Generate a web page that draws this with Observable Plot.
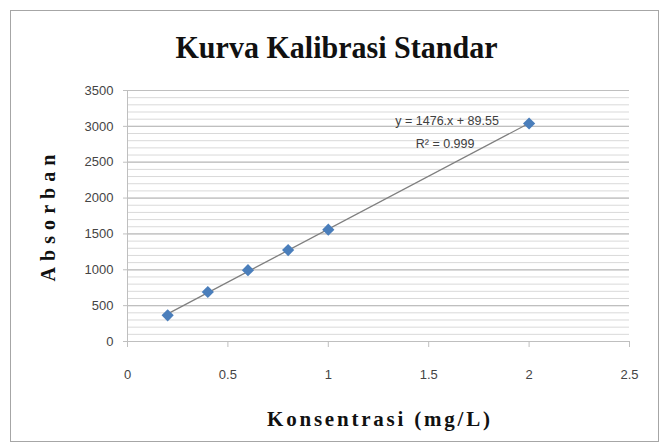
<!DOCTYPE html>
<html><head><meta charset="utf-8">
<script src="https://cdn.jsdelivr.net/npm/d3@7"></script>
<script src="https://cdn.jsdelivr.net/npm/@observablehq/plot@0.6"></script>
<style>
body{margin:0;background:#fff;}
#wrap{position:relative;width:664px;height:448px;}
#border{position:absolute;left:10px;top:10px;width:647px;height:430px;border:1.5px solid #a6a6a6;}
#chart{position:absolute;left:0;top:0;}
</style></head><body>
<div id="wrap"><div id="border"></div><div id="chart"></div></div>
<script>
const konsentrasi = [0.2, 0.4, 0.6, 0.8, 1.0, 2.0];
const absorban = [365, 690, 995, 1275, 1560, 3040];
const xTicks = [0, 0.5, 1, 1.5, 2, 2.5];
const yTicks = [0, 500, 1000, 1500, 2000, 2500, 3000, 3500];
const yMinorStep = 100;
const title = "Kurva Kalibrasi Standar";
const xLabel = "Konsentrasi (mg/L)";
const yLabel = "Absorban";
const equation = "y = 1476.x + 89.55";
const rSquared = "R\u00b2 = 0.999";

const data = konsentrasi.map((k, i) => ({k, a: absorban[i]}));
const yMinor = d3.range(0, 3500 + 1, yMinorStep);
const last = data[data.length - 1];
const tickFont = "'Liberation Sans Narrow', 'Liberation Sans', sans-serif";
const serif = "'Liberation Serif', 'DejaVu Serif', serif";

const plot = Plot.plot({
  width: 664, height: 448,
  marginLeft: 127, marginRight: 35, marginTop: 90, marginBottom: 107,
  x: {domain: [0, 2.5]},
  y: {domain: [0, 3500]},
  style: {background: "transparent"},
  marks: [
    Plot.ruleY(yMinor, {stroke: "#d9d9d9", strokeWidth: 1}),
    Plot.ruleY(yTicks, {stroke: "#bfbfbf", strokeWidth: 1.2}),
    Plot.ruleX([0], {stroke: "#bfbfbf"}),
    Plot.axisX({ticks: xTicks, tickSize: 6, tickPadding: 22, stroke: "#bfbfbf", fill: "#444", fontSize: 13, fontFamily: tickFont, label: null, tickFormat: d => String(d)}),
    Plot.axisY({ticks: yTicks, tickSize: 4, tickPadding: 10, stroke: "#bfbfbf", fill: "#444", fontSize: 13, fontFamily: tickFont, label: null, tickFormat: d => String(d)}),
    Plot.linearRegressionY(data, {x: "k", y: "a", ci: 0, stroke: "#7f7f7f", strokeWidth: 1.3}),
    Plot.dot(data, {x: "k", y: "a", symbol: "diamond2", r: 5.5, fill: "#4a7ebb", stroke: "none"}),
    Plot.text([equation], {x: () => last.k, y: () => last.a, text: d => d, dx: -82, dy: -2, fontSize: 12.5, fontFamily: tickFont, fill: "#404040"}),
    Plot.text([rSquared], {x: () => last.k, y: () => last.a, text: d => d, dx: -84, dy: 21, fontSize: 12.5, fontFamily: tickFont, fill: "#404040"}),
    Plot.text([title], {frameAnchor: "top", lineAnchor: "bottom", text: d => d, dx: -42, dy: -33, fontSize: 32, fontWeight: "bold", fontFamily: serif, fill: "#111"}),
    Plot.text([xLabel], {frameAnchor: "bottom", lineAnchor: "bottom", text: d => d, dy: 84, fontSize: 21, fontWeight: "bold", fontFamily: serif, fill: "#111"}),
    Plot.text([yLabel], {frameAnchor: "left", textAnchor: "middle", lineAnchor: "middle", text: d => d, dx: -79, dy: 2, rotate: -90, fontSize: 20, fontWeight: "bold", fontFamily: serif, fill: "#111"})
  ]
});
d3.select(plot).selectAll("text").each(function() {
  const t = this.textContent;
  const fit = {[title]: [322, "spacingAndGlyphs"], [xLabel]: [223, "spacing"], [yLabel]: [127, "spacing"]}[t];
  if (fit) {
    this.setAttribute("textLength", fit[0]);
    this.setAttribute("lengthAdjust", fit[1]);
  }
});
document.getElementById("chart").appendChild(plot);
</script>
</body></html>
